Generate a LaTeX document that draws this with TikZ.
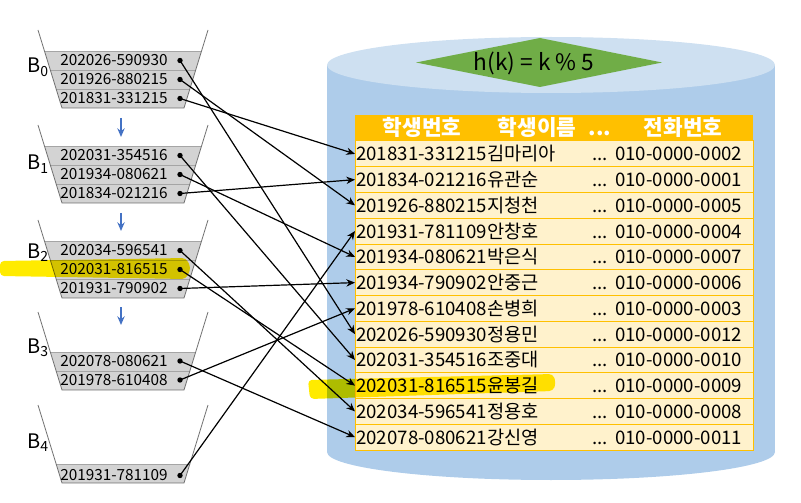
\documentclass[tikz,border=0pt]{standalone}
\usepackage{fontspec}
\setmainfont{Noto Sans CJK KR}
\usepackage{tikz}
\usetikzlibrary{arrows.meta,positioning,calc}
\definecolor{cylside}{RGB}{174,204,234}
\definecolor{cyltop}{RGB}{206,224,241}
\definecolor{hashcol}{RGB}{112,173,71}
\definecolor{headcol}{RGB}{255,192,0}
\definecolor{rowcol}{RGB}{255,242,204}
\definecolor{bktcol}{RGB}{211,211,211}
\definecolor{bktline}{RGB}{110,110,110}
\definecolor{sepcol}{RGB}{165,165,165}
\definecolor{downcol}{RGB}{68,114,196}
\definecolor{markcol}{RGB}{255,235,0}

\begin{document}
\begin{tikzpicture}[
  x=0.75pt, y=-0.75pt,
  bkt/.style={bktline,line width=0.6pt},
  bktsep/.style={sepcol,line width=0.6pt},
  item/.style={anchor=west,inner sep=0pt,font=\fontsize{11.5}{12}\selectfont},
  dot/.style={circle,fill=black,inner sep=0pt,minimum size=4pt},
  blabel/.style={anchor=base west,inner sep=0pt,font=\fontsize{15}{16}\selectfont},
  rowbox/.style={fill=rowcol,draw=headcol,line width=0.75pt},
  rowid/.style={anchor=base west,inner sep=0.75pt,font=\fontsize{14}{15}\selectfont},
  rowdots/.style={anchor=base,inner sep=0pt,font=\fontsize{14}{15}\selectfont},
  head/.style={anchor=base,text=white,inner sep=0pt,font=\bfseries\fontsize{16}{17}\selectfont},
  link/.style={->,line width=0.9pt},
  down/.style={->,downcol,line width=1.5pt},
  >={Stealth[length=6.5pt,width=5.5pt]}]
\useasboundingbox (0,0) rectangle (801,503);

% cylinder with the hash function
\fill[cylside] (327,65) rectangle (775,452);
\fill[cylside] (551,452) ellipse [x radius=224, y radius=28];
\fill[cyltop] (551,65) ellipse [x radius=224, y radius=28];
\fill[hashcol] (416,62.5) -- (540,38) -- (662,62.5) -- (540,87) -- cycle;
\node[font=\fontsize{17}{18}\selectfont] (hash) at (534,63) {h(k) = k \% 5};

% table
\fill[headcol] (355,115) rectangle (753,141);
\node[head] (h1) at (422,135.5) {학생번호};
\node[head] (h2) at (537,135.5) {학생이름};
\node[head] (h3) at (600,135.5) {...};
\node[head] (h4) at (683,135.5) {전화번호};
\foreach \id/\nm/\ph [count=\i] in {
  201831-331215/김마리아/010-0000-0002,
  201834-021216/유관순/010-0000-0001,
  201926-880215/지청천/010-0000-0005,
  201931-781109/안창호/010-0000-0004,
  201934-080621/박은식/010-0000-0007,
  201934-790902/안중근/010-0000-0006,
  201978-610408/손병희/010-0000-0003,
  202026-590930/정용민/010-0000-0012,
  202031-354516/조중대/010-0000-0010,
  202031-816515/윤봉길/010-0000-0009,
  202034-596541/정용호/010-0000-0008,
  202078-080621/강신영/010-0000-0011}{
  \filldraw[rowbox] (355,{141+25.75*(\i-1)}) rectangle (753,{141+25.75*\i});
  \node[rowid] (t\i) at (355,{141+25.75*(\i-0.5)+7}) {\id\nm};
  \node[rowdots] (d\i) at (600,{141+25.75*(\i-0.5)+7}) {...};
  \node[rowid] (p\i) at (614,{141+25.75*(\i-0.5)+7}) {\ph};
}

% buckets
\foreach \b/\t/\n/\l in {0/30/3/73,1/125/3/170,2/220/3/258,3/312/2/353,4/405/1/448}{
  \begin{scope}
    \clip (38,\t) -- (208,\t) -- (184,\t+78) -- (62,\t+78) -- cycle;
    \fill[bktcol] (30,\t+78-19*\n) rectangle (220,\t+78);
    \foreach \k in {1,...,\n}
      \draw[bktsep] (30,\t+78-19*\k) -- (220,\t+78-19*\k);
  \end{scope}
  \draw[bkt] (38,\t) -- (62,\t+78) -- (184,\t+78) -- (208,\t);
  \node[blabel] (B\b) at (27,\l) {B\textsubscript{\b}};
}
\foreach \nm/\y/\txt in {b0a/60.5/202026-590930, b0b/79.5/201926-880215,
  b0c/98.5/201831-331215, b1a/155.5/202031-354516, b1b/174.5/201934-080621,
  b1c/193.5/201834-021216, b2a/250.5/202034-596541, b2b/269.5/202031-816515,
  b2c/288.5/201931-790902, b3a/361/202078-080621, b3b/380/201978-610408,
  b4a/475.5/201931-781109}{
  \node[item] (\nm) at (60,\y) {\txt};
  \node[dot] (\nm dot) at (180,\y) {};
}

% bucket chain
\coordinate (s0) at (121,118); \coordinate (e0) at (121,137);
\coordinate (s1) at (121,213); \coordinate (e1) at (121,231);
\coordinate (s2) at (121,307); \coordinate (e2) at (121,325);
\foreach \k in {0,1,2} \draw[down] (s\k) -- (e\k);

% pointers into the table
\foreach \s/\e in {b0a/8,b0b/3,b0c/1,b1a/9,b1b/5,b1c/2,b2a/11,b2b/10,b2c/6,b3a/12,b3b/7,b4a/4}
  \draw[link] (\s dot.center) -- (t\e.west);

% highlighter
\begin{scope}[blend mode=multiply]
  \fill[markcol,rounded corners=3pt] (0,261) -- (186,258) -- (191,268) -- (186,279) -- (0,276) -- cycle;
  \fill[markcol,rounded corners=3pt] (308,380) -- (553,374) -- (556,383) -- (553,391) -- (310,399) -- cycle;
\end{scope}
\end{tikzpicture}
\end{document}
